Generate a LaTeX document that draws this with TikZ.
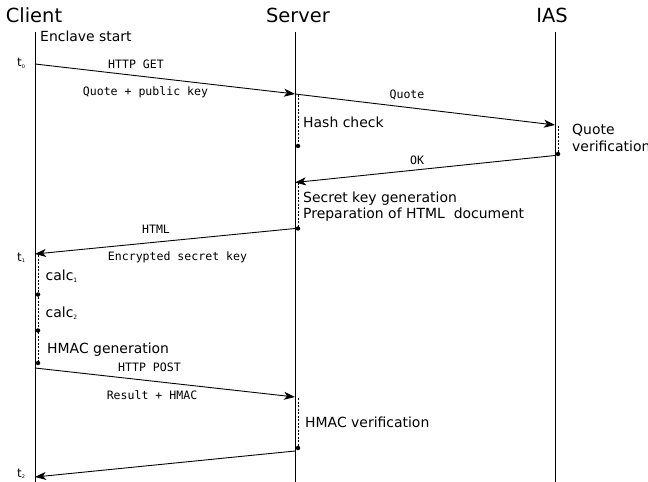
\documentclass[tikz,border=0pt]{standalone}
\usepackage{fontspec}
\setmainfont{DejaVu Sans}
\newfontfamily\monofont{DejaVu Sans Mono}
\usetikzlibrary{arrows.meta}
\begin{document}
\begin{tikzpicture}[x=1bp,y=-1bp,
  life/.style={line width=0.9bp},
  msg/.style={line width=0.9bp,-{Stealth[length=11bp,width=8bp,inset=3bp]}},
  act/.style={line width=0.8bp,dash pattern=on 2bp off 1.5bp},
  dotc/.style={circle,fill=black,inner sep=0pt,minimum size=4.5bp},
  title/.style={font=\fontsize{19.5}{19.5}\selectfont,inner sep=0pt,anchor=base},
  lab/.style={font=\fontsize{14}{16}\selectfont,inner sep=0pt,anchor=base west},
  mlab/.style={font=\monofont\fontsize{11.6}{11.6}\selectfont,inner sep=0pt,anchor=base},
  tlab/.style={font=\fontsize{12}{12}\selectfont,inner sep=0pt,anchor=base west}]
\useasboundingbox (0,0) rectangle (648,482);
% lifelines
\coordinate (c0) at (35,32); \coordinate (c1) at (35,482);
\coordinate (s0) at (295,32); \coordinate (s1) at (295,482);
\coordinate (i0) at (555,32); \coordinate (i1) at (555,482);
\draw[life] (c0) -- (c1);
\draw[life] (s0) -- (s1);
\draw[life] (i0) -- (i1);
\node[title] (tc) at (34,23) {Client};
\node[title] (ts) at (298,23) {Server};
\node[title] (ti) at (552,23) {IAS};
\node[lab] (enc) at (40,42) {Enclave start};
% time labels
\node[tlab] (t0) at (17,67) {t\raisebox{-1.5bp}{\fontsize{5}{5}\selectfont 0}};
\node[tlab] (t1) at (17,261) {t\raisebox{-1.5bp}{\fontsize{5}{5}\selectfont 1}};
\node[tlab] (t2) at (17,477) {t\raisebox{-1.5bp}{\fontsize{5}{5}\selectfont 2}};
% message 1
\coordinate (m1a) at (35,64); \coordinate (m1b) at (295,94);
\draw[msg] (m1a) -- (m1b);
\node[mlab] (l1a) at (136,69) {HTTP GET};
\node[mlab] (l1b) at (145.5,95.5) {Quote + public key};
% message 2
\coordinate (m2b) at (555,125);
\draw[msg] (m1b) -- (m2b);
\node[mlab] (l2) at (407,99) {Quote};
% hash check
\coordinate (h0) at (298,95); \node[dotc] (h1) at (298,146) {};
\draw[act] (h0) -- (h1.center);
\node[lab] (hc) at (303,128) {Hash check};
% quote verification
\coordinate (q0) at (558,126); \node[dotc] (q1) at (558,154) {};
\draw[act] (q0) -- (q1.center);
\node[lab] (qv) at (572,135) {Quote};
\node[lab] (qv2) at (572,152) {verification};
% OK
\coordinate (m3a) at (555,155.5); \coordinate (m3b) at (295,182.5);
\draw[msg] (m3a) -- (m3b);
\node[mlab] (l3) at (417,165) {OK};
% secret key generation
\coordinate (g0) at (298,183); \node[dotc] (g1) at (298,228.5) {};
\draw[act] (g0) -- (g1.center);
\node[lab] (sk) at (303,203) {Secret key generation};
\node[lab] (ph) at (303,218.5) {Preparation of HTML\ \ document};
% HTML
\coordinate (m4a) at (295,228.5); \coordinate (m4b) at (35,254);
\draw[msg] (m4a) -- (m4b);
\node[mlab] (l4a) at (156,234) {HTML};
\node[mlab] (l4b) at (177.5,260) {Encrypted secret key};
% client calcs
\coordinate (k0) at (38,255);
\node[dotc] (k1) at (38,294.5) {};
\node[dotc] (k2) at (38,330.5) {};
\node[dotc] (k3) at (38,363) {};
\draw[act] (k0) -- (k1.center) -- (k2.center) -- (k3.center);
\node[lab] (cc1) at (45.5,280) {calc\raisebox{-2bp}{\fontsize{6}{6}\selectfont 1}};
\node[lab] (cc2) at (45.5,317) {calc\raisebox{-2bp}{\fontsize{6}{6}\selectfont 2}};
\node[lab] (hg) at (47,353) {HMAC generation};
% HTTP POST
\coordinate (m5a) at (35,368); \coordinate (m5b) at (295,397);
\draw[msg] (m5a) -- (m5b);
\node[mlab] (l5a) at (149.5,371) {HTTP POST};
\node[mlab] (l5b) at (152,399) {Result + HMAC};
% HMAC verification
\coordinate (v0) at (298,398); \node[dotc] (v1) at (298,448) {};
\draw[act] (v0) -- (v1.center);
\node[lab] (hv) at (305,427) {HMAC verification};
% response
\coordinate (m6a) at (295,451); \coordinate (m6b) at (35,477);
\draw[msg] (m6a) -- (m6b);
\end{tikzpicture}
\end{document}
